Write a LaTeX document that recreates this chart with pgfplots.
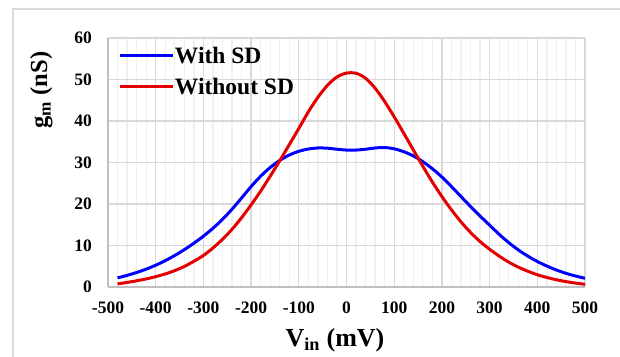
\documentclass[border=0pt]{standalone}
\usepackage{fontspec}
\setmainfont{Liberation Serif}
\usepackage{pgfplots}
\pgfplotsset{compat=1.18}
\definecolor{gridmaj}{RGB}{217,217,217}
\definecolor{gridmin}{RGB}{240,240,240}
\definecolor{axgray}{RGB}{191,191,191}
\definecolor{myred}{RGB}{228,0,0}
\definecolor{myblue}{RGB}{0,0,255}
\pgfplotstableread{
x y
-480 2.2
-460 2.8
-440 3.5
-420 4.3
-400 5.25
-380 6.35
-360 7.6
-340 9.0
-320 10.55
-300 12.25
-280 14.15
-260 16.3
-240 18.75
-220 21.45
-200 24.2
-180 26.7
-160 28.8
-140 30.5
-120 31.8
-100 32.7
-80 33.25
-60 33.5
-40 33.45
-20 33.2
0 33.0
20 33.0
40 33.2
60 33.5
80 33.6
100 33.3
120 32.6
140 31.6
160 30.2
180 28.5
200 26.5
220 24.2
240 21.8
260 19.4
280 17.1
300 14.9
320 12.7
340 10.7
360 8.95
380 7.45
400 6.15
420 5.05
440 4.1
460 3.3
480 2.65
500 2.1
}\withsd
\pgfplotstableread{
x y
-480 0.75
-460 1.1
-440 1.5
-420 1.95
-400 2.5
-380 3.15
-360 3.95
-340 4.95
-320 6.2
-300 7.6
-280 9.4
-260 11.5
-240 13.9
-220 16.7
-200 19.8
-180 23.1
-160 26.7
-140 30.4
-120 34.3
-100 38.2
-80 42.2
-60 45.7
-40 48.6
-20 50.6
0 51.55
20 51.5
40 50.3
60 47.9
80 44.7
100 41.0
120 37.05
140 33.05
160 29.1
180 25.3
200 21.8
220 18.6
240 15.7
260 13.15
280 10.95
300 9.1
320 7.45
340 6.0
360 4.8
380 3.8
400 2.95
420 2.3
440 1.75
460 1.3
480 0.95
500 0.65
}\withoutsd
\begin{document}
\begin{tikzpicture}
\path[use as bounding box] (0pt,0pt) rectangle (620pt,-356pt);
\draw[gridmaj, line width=1.5pt] (13pt,-380pt) -- (13pt,-9pt) -- (660pt,-9pt);
\begin{axis}[
  at={(108pt,-287pt)}, anchor=south west,
  width=477pt, height=249pt, scale only axis,
  xmin=-500, xmax=500, ymin=0, ymax=60,
  xtick={-500,-400,...,500},
  minor x tick num=4,
  ytick={0,10,...,60},
  xticklabels={-500,-400,-300,-200,-100,0,100,200,300,400,500},
  /pgf/number format/assume math mode=true,
  grid=both,
  major grid style={draw=gridmaj, line width=1.3pt},
  minor grid style={draw=gridmin, line width=1.3pt},
  axis x line*=bottom, axis y line*=left,
  axis line style={draw=axgray, line width=2pt, -},
  major tick length=0pt, minor tick length=0pt,
  tick label style={font=\fontsize{17.5}{20}\selectfont\bfseries, inner sep=0pt},
  yticklabel style={anchor=east, xshift=-16pt},
  xticklabel style={anchor=north, yshift=-15pt},
  legend style={draw=none, fill=none, inner sep=0pt, outer sep=0pt,
    at={(rel axis cs:0.023,0.963)}, anchor=north west,
    font=\fontsize{23.5}{26}\selectfont\bfseries,
    row sep=15pt,
    nodes={inner sep=0pt, text height=16pt, text depth=0pt}},
  legend cell align=left,
  legend image code/.code={\draw[#1, line width=3pt] (0pt,0pt) -- (53pt,0pt);},
  /tikz/every even column/.append style={column sep=5pt},
]
\addplot[myblue, line width=3pt, smooth] table[x=x,y=y]{\withsd};
\addlegendentry{With SD}
\addplot[myred, line width=3pt, smooth] table[x=x,y=y]{\withoutsd};
\addlegendentry{Without SD}
\end{axis}
\node[rotate=90, anchor=base, font=\fontsize{24.5}{28}\selectfont\bfseries, inner sep=0pt] at (47pt,-90pt) {g\textsubscript{m} (nS)};
\node[anchor=base, font=\fontsize{26}{28}\selectfont\bfseries, inner sep=0pt] at (335pt,-346pt) {V\textsubscript{in} (mV)};
\end{tikzpicture}
\end{document}
